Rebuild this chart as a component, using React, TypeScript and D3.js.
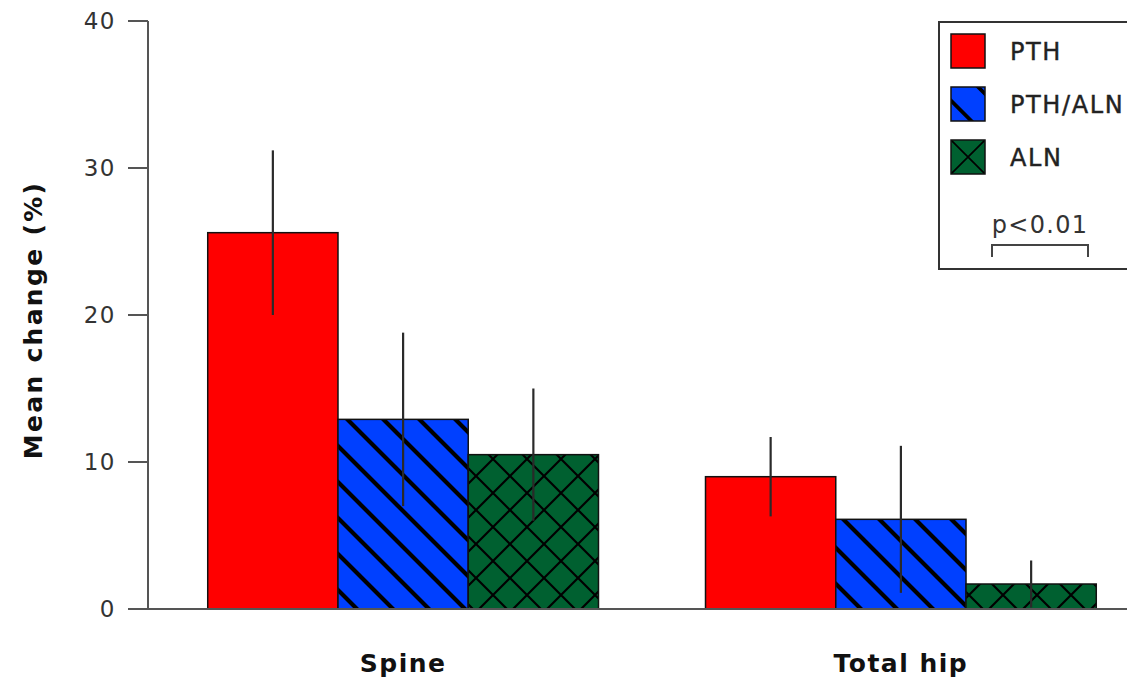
import React from "react";
import * as d3 from "d3";

const categories = ["Spine", "Total hip"];
const seriesNames = ["PTH", "PTH/ALN", "ALN"];
const pthValues = [25.6, 9.0];
const pthErrors = [5.6, 2.7];
const pthAlnValues = [12.9, 6.1];
const pthAlnErrors = [5.9, 5.0];
const alnValues = [10.5, 1.7];
const alnErrors = [4.5, 1.6];
const yTicks = [0, 10, 20, 30, 40];

const seriesValues = [pthValues, pthAlnValues, alnValues];
const seriesErrors = [pthErrors, pthAlnErrors, alnErrors];
const fills = ["#ff0000", "url(#stripes)", "url(#crosshatch)"];
const legendFills = ["#ff0000", "url(#stripesLegend)", "url(#crossLegend)"];

const width = 1127;
const height = 679;
const font = "'DejaVu Sans', Verdana, sans-serif";

export default function App() {
    const y = d3.scaleLinear().domain([0, 40]).range([609, 21]);
    const x = d3
        .scaleBand<string>()
        .domain(categories)
        .range([148, 1156])
        .paddingInner(0.215)
        .paddingOuter(0.12);
    const xs = d3
        .scaleBand<string>()
        .domain(seriesNames)
        .range([0, x.bandwidth()]);

    return (
        <svg
            width={width}
            height={height}
            style={{ position: "absolute", left: 0, top: 0, background: "#fff" }}
        >
            <defs>
                <pattern id="stripes" patternUnits="userSpaceOnUse" width={36} height={36}>
                    <rect width={36} height={36} fill="#0040ff" />
                    <path d="M-9,-9 L45,45 M-27,9 L9,45 M9,-27 L45,9" stroke="#000" strokeWidth={4.2} />
                </pattern>
                <pattern id="crosshatch" patternUnits="userSpaceOnUse" width={34} height={34}>
                    <rect width={34} height={34} fill="#006030" />
                    <path d="M-4,-4 L38,38 M-4,38 L38,-4" stroke="#000" strokeWidth={2.2} />
                </pattern>
                <pattern id="stripesLegend" patternUnits="objectBoundingBox" width={1} height={1} patternContentUnits="objectBoundingBox">
                    <rect width={1} height={1} fill="#0040ff" />
                    <path d="M-0.2,0.2 L0.8,1.2 M0.6,-0.2 L1.2,0.4" stroke="#000" strokeWidth={0.11} />
                </pattern>
                <pattern id="crossLegend" patternUnits="objectBoundingBox" width={1} height={1} patternContentUnits="objectBoundingBox">
                    <rect width={1} height={1} fill="#006030" />
                    <path d="M0,0 L1,1 M0,1 L1,0" stroke="#000" strokeWidth={0.05} />
                </pattern>
            </defs>

            {/* bars */}
            {categories.map((c, ci) =>
                seriesNames.map((s, si) => {
                    const v = seriesValues[si][ci];
                    const x0 = (x(c) ?? 0) + (xs(s) ?? 0);
                    return (
                        <rect
                            key={c + s}
                            x={x0}
                            y={y(v)}
                            width={xs.bandwidth()}
                            height={y(0) - y(v)}
                            fill={fills[si]}
                            stroke="#111"
                            strokeWidth={1.5}
                        />
                    );
                })
            )}

            {/* error bars */}
            {categories.map((c, ci) =>
                seriesNames.map((s, si) => {
                    const v = seriesValues[si][ci];
                    const e = seriesErrors[si][ci];
                    const cx = (x(c) ?? 0) + (xs(s) ?? 0) + xs.bandwidth() / 2;
                    return (
                        <line
                            key={"e" + c + s}
                            x1={cx}
                            x2={cx}
                            y1={y(v + e)}
                            y2={y(Math.max(0, v - e))}
                            stroke="#2a2a2a"
                            strokeWidth={2.2}
                        />
                    );
                })
            )}

            {/* axes */}
            <line x1={148} x2={148} y1={y(40)} y2={y(0)} stroke="#555" strokeWidth={2} />
            <line x1={147} x2={width} y1={y(0)} y2={y(0)} stroke="#555" strokeWidth={2} />
            {yTicks.map((t) => (
                <g key={t}>
                    <line x1={128} x2={148} y1={y(t)} y2={y(t)} stroke="#555" strokeWidth={2} />
                    <text
                        x={116}
                        y={y(t)}
                        dy="0.36em"
                        textAnchor="end"
                        fontFamily={font}
                        fontSize={23}
                        letterSpacing={1.5}
                        fill="#333"
                    >
                        {t}
                    </text>
                </g>
            ))}
            {categories.map((c) => (
                <text
                    key={c}
                    x={(x(c) ?? 0) + x.bandwidth() / 2}
                    y={672}
                    textAnchor="middle"
                    fontFamily={font}
                    fontWeight="bold"
                    fontSize={25}
                    letterSpacing={1.5}
                    fill="#111"
                >
                    {c}
                </text>
            ))}
            <text
                transform={`translate(42,${320}) rotate(-90)`}
                textAnchor="middle"
                fontFamily={font}
                fontWeight="bold"
                fontSize={25}
                letterSpacing={2.3}
                fill="#111"
            >
                Mean change (%)
            </text>

            {/* legend */}
            <rect x={939} y={22} width={200} height={247} fill="#fff" stroke="#333" strokeWidth={2} />
            {seriesNames.map((s, i) => (
                <g key={s} transform={`translate(951,${34 + i * 53})`}>
                    <rect width={34} height={34} fill={legendFills[i]} stroke="#111" strokeWidth={1.5} />
                    <text
                        x={59}
                        y={17}
                        dy="0.36em"
                        fontFamily={font}
                        fontSize={24}
                        letterSpacing={1.6}
                        stroke="#222"
                        strokeWidth={0.4}
                        fill="#222"
                    >
                        {s}
                    </text>
                </g>
            ))}
            <text
                x={1040}
                y={233}
                textAnchor="middle"
                fontFamily={font}
                fontSize={24}
                letterSpacing={1.3}
                fill="#333"
            >
                p&lt;0.01
            </text>
            <path d="M992,257 V245 H1088 V257" fill="none" stroke="#444" strokeWidth={2} />
        </svg>
    );
}
